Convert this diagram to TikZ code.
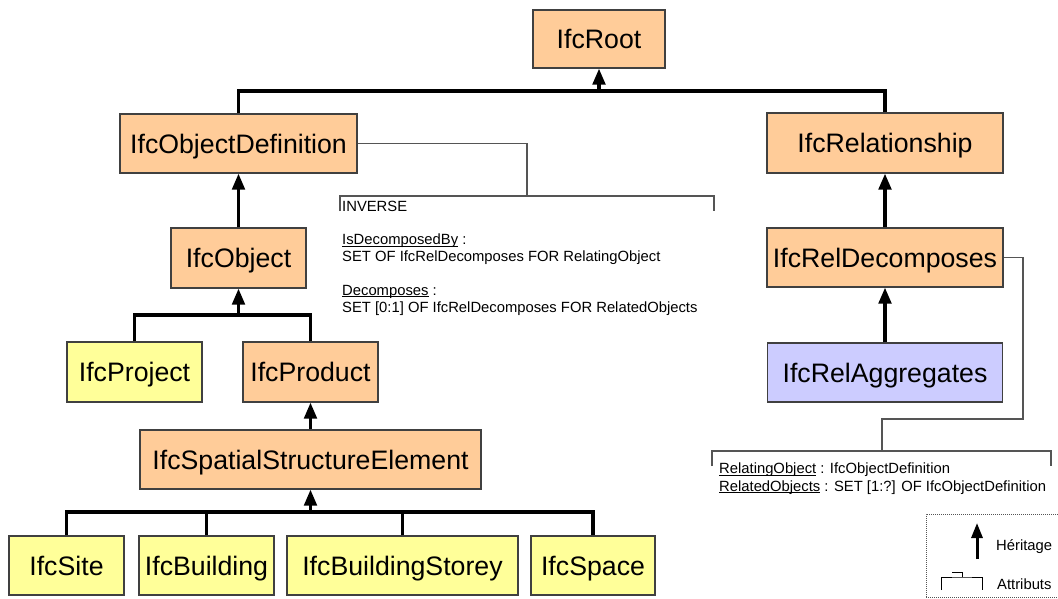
\documentclass[tikz,border=0pt]{standalone}
\usepackage{fontspec}
\setmainfont{Liberation Sans}
\usetikzlibrary{arrows.meta}
\definecolor{orangebox}{HTML}{FFCC99}
\definecolor{yellowbox}{HTML}{FFFF99}
\definecolor{bluebox}{HTML}{CCCCFF}
\definecolor{boxline}{HTML}{404040}
\definecolor{attrline}{HTML}{555555}
\newcommand\myul[1]{\setbox0\hbox{#1}\rlap{\rule[-1.8pt]{\wd0}{0.8pt}}\box0\relax}
\tikzset{
  basebox/.style={draw=boxline, line width=1.2pt, inner sep=0pt,
    font=\fontsize{26.7}{30}\selectfont, text height=19.1pt, text depth=0pt},
  obox/.style={basebox, fill=orangebox},
  ybox/.style={basebox, fill=yellowbox},
  bbox/.style={basebox, fill=bluebox},
  inhline/.style={line width=3.4pt},
  inh/.style={inhline, -{Triangle[width=12.5pt,length=16pt]}},
  attr/.style={draw=attrline, line width=1.3pt},
  small/.style={anchor=base west, inner sep=0pt, font=\fontsize{14.8}{16}\selectfont},
}
\begin{document}
\begin{tikzpicture}[x=1pt,y=-1pt]
\useasboundingbox (0,0) rectangle (1058,599);
% boxes
\node[obox, minimum width=132pt, minimum height=58pt] (root) at (599,39) {IfcRoot};
\node[obox, minimum width=237pt, minimum height=59pt] (objdef) at (238.5,143.5) {IfcObjectDefinition};
\node[obox, minimum width=236pt, minimum height=60pt] (rel) at (885,143) {IfcRelationship};
\node[obox, minimum width=135pt, minimum height=60pt] (obj) at (238.5,258) {IfcObject};
\node[obox, minimum width=236pt, minimum height=59pt] (reldec) at (885,257.5) {IfcRelDecomposes};
\node[bbox, minimum width=235pt, minimum height=59pt] (relagg) at (885,372.5) {IfcRelAggregates};
\node[ybox, minimum width=135pt, minimum height=60pt] (project) at (134.5,372) {IfcProject};
\node[obox, minimum width=135pt, minimum height=60pt] (product) at (310.5,372) {IfcProduct};
\node[obox, minimum width=341pt, minimum height=59pt] (sse) at (310.5,459.5) {IfcSpatialStructureElement};
\node[ybox, minimum width=115pt, minimum height=59pt] (site) at (66.5,565.5) {IfcSite};
\node[ybox, minimum width=135pt, minimum height=59pt] (building) at (206.5,565.5) {IfcBuilding};
\node[ybox, minimum width=231pt, minimum height=59pt] (storey) at (402.5,565.5) {IfcBuildingStorey};
\node[ybox, minimum width=124pt, minimum height=59pt] (space) at (593,565.5) {IfcSpace};
% inheritance
\coordinate (j1) at (599,91);
\draw[inhline] (objdef.north) |- (j1) -| (rel.north);
\draw[inh] (j1) -- (root.south);
\draw[inh] (obj.north) -- (objdef.south);
\coordinate (j2) at (238.5,315);
\draw[inhline] (project.north) |- (j2) -| (product.north);
\draw[inh] (j2) -- (obj.south);
\draw[inh] (sse.north) -- (product.south);
\coordinate (j3) at (310.5,512);
\draw[inhline] (site.north) |- (j3) -| (space.north);
\draw[inhline] (building.north) -- (building.north |- j3);
\draw[inhline] (storey.north) -- (storey.north |- j3);
\draw[inh] (j3) -- (sse.south);
\draw[inh] (reldec.north) -- (rel.south);
\draw[inh] (relagg.north) -- (reldec.south);
% attributes of IfcObjectDefinition
\coordinate (a1) at (527,196);
\coordinate (b1l) at (340,211);
\coordinate (b1r) at (714,211);
\draw[attr] (objdef.east) -| (a1);
\draw[attr] (b1l) |- (a1) -| (b1r);
\node[small] (t1) at (342,211.5) {INVERSE};
\node[small] (t2) at (342,244.5) {\myul{IsDecomposedBy} :};
\node[small] (t3) at (342,261) {SET OF IfcRelDecomposes FOR RelatingObject};
\node[small] (t4) at (342,295) {\myul{Decomposes} :};
\node[small] (t5) at (342,312) {SET [0:1] OF IfcRelDecomposes FOR RelatedObjects};
% attributes of IfcRelDecomposes
\coordinate (c1) at (1023,419);
\coordinate (a2) at (882,451);
\coordinate (b2l) at (712,466);
\coordinate (b2r) at (1051,466);
\draw[attr] (reldec.east) -| (c1) -| (a2);
\draw[attr] (b2l) |- (a2) -| (b2r);
\node[small] (t6) at (719,473.5) {\myul{RelatingObject} : IfcObjectDefinition};
\node[small] (t7) at (719,491) {\myul{RelatedObjects} : SET [1:?] OF IfcObjectDefinition};
% legend
\draw[attrline, densely dotted, line width=1pt] (926,597) -- (926,514) -- (1062,514);
\draw[attrline, densely dotted, line width=1pt] (926,597) -- (1062,597);
\coordinate (h1) at (977,559);
\coordinate (h2) at (977,523);
\draw[line width=3pt, -{Triangle[width=11pt,length=15pt]}] (h1) -- (h2);
\node[small] (lh) at (996,550) {Héritage};
\coordinate (l1) at (952,572);
\coordinate (l2) at (962,577);
\coordinate (l3) at (941,590);
\coordinate (l4) at (982,590);
\draw[line width=0.9pt] (l1) -| (l2);
\draw[line width=0.9pt] (l3) |- (l2) -| (l4);
\node[small] (la) at (997,589) {Attributs};
\end{tikzpicture}
\end{document}
